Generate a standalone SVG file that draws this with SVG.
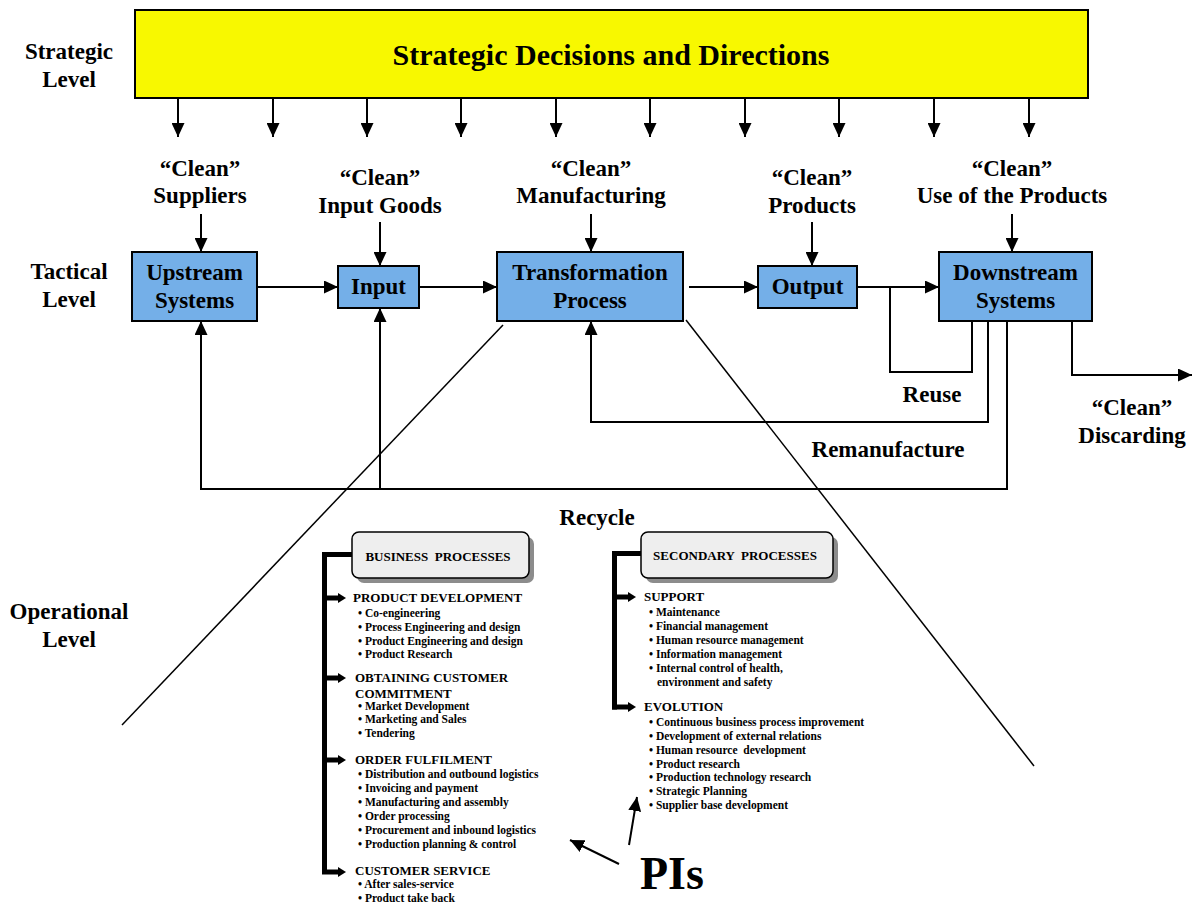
<svg xmlns="http://www.w3.org/2000/svg" width="1196" height="906" viewBox="0 0 1196 906">
<defs>
<style>
text{font-family:'Liberation Serif','Times New Roman',serif;font-weight:bold;fill:#000;white-space:pre}
.lbl{font-size:23px;text-anchor:middle}
.big{font-size:30px;text-anchor:middle}
.node{fill:#74AFE8;stroke:#000;stroke-width:2}
.c{fill:none;stroke:#000;stroke-width:2}
.d{fill:none;stroke:#000;stroke-width:1.5}
.br{fill:none;stroke:#000;stroke-width:5}
.pb{fill:#EEEEEE;stroke:#000;stroke-width:1.5}
.sh{fill:#8C8C8C}
.h{font-size:13px}
.i{font-size:11.5px}
.pt{font-size:13px;text-anchor:middle}
</style>
<marker id="ah" viewBox="0 0 14 13" refX="14" refY="6.5" markerWidth="14" markerHeight="13" markerUnits="userSpaceOnUse" orient="auto"><path d="M0,0L14,6.5L0,13z" fill="#000"/></marker>
<marker id="bh" viewBox="0 0 8 10" refX="0" refY="5" markerWidth="8" markerHeight="10" markerUnits="userSpaceOnUse" orient="auto"><path d="M0,0L8,5L0,10z" fill="#000"/></marker>
</defs>

<g id="level-labels">
<text class="lbl" x="69" y="59">Strategic</text>
<text class="lbl" x="69" y="87">Level</text>
<text class="lbl" x="69" y="279">Tactical</text>
<text class="lbl" x="69" y="307">Level</text>
<text class="lbl" x="69" y="619">Operational</text>
<text class="lbl" x="69" y="647">Level</text>
</g>

<g id="strategic">
<rect x="135" y="10" width="953" height="88" fill="#F8F800" stroke="#000" stroke-width="2"/>
<text class="big" x="611" y="65">Strategic Decisions and Directions</text>
</g>

<g id="connectors">
<g id="strategic-arrows" marker-end="url(#ah)">
<path class="c" d="M178,98V137"/>
<path class="c" d="M273,98V137"/>
<path class="c" d="M367,98V137"/>
<path class="c" d="M461,98V137"/>
<path class="c" d="M556,98V137"/>
<path class="c" d="M650,98V137"/>
<path class="c" d="M745,98V137"/>
<path class="c" d="M839,98V137"/>
<path class="c" d="M934,98V137"/>
<path class="c" d="M1029,98V137"/>
</g>
<path class="c" d="M201,214V252" marker-end="url(#ah)"/>
<path class="c" d="M380,222V266" marker-end="url(#ah)"/>
<path class="c" d="M591,214V252" marker-end="url(#ah)"/>
<path class="c" d="M812,222V266" marker-end="url(#ah)"/>
<path class="c" d="M1012,214V252" marker-end="url(#ah)"/>
<path class="c" d="M257,287H338" marker-end="url(#ah)"/>
<path class="c" d="M419,287H497" marker-end="url(#ah)"/>
<path class="c" d="M689,287H758" marker-end="url(#ah)"/>
<path class="c" d="M857,287H939" marker-end="url(#ah)"/>
<path class="c" d="M890,287V372H972V321"/>
<path class="c" d="M988,321V422H591V321" marker-end="url(#ah)"/>
<path class="c" d="M1007,321V489H201V321" marker-end="url(#ah)"/>
<path class="c" d="M380,489V308" marker-end="url(#ah)"/>
<path class="c" d="M1072,321V375H1192" marker-end="url(#ah)"/>
<path class="d" d="M503,325L122,725"/>
<path class="d" d="M686,320L1034,766"/>
<path class="c" d="M619,864L570,840" marker-end="url(#ah)"/>
<path class="c" d="M629,845L637,797" marker-end="url(#ah)"/>
</g>

<g id="flow-labels">
<text class="lbl" x="200" y="176">“Clean”</text>
<text class="lbl" x="200" y="203">Suppliers</text>
<text class="lbl" x="380" y="185">“Clean”</text>
<text class="lbl" x="380" y="213">Input Goods</text>
<text class="lbl" x="591" y="176">“Clean”</text>
<text class="lbl" x="591" y="203">Manufacturing</text>
<text class="lbl" x="812" y="185">“Clean”</text>
<text class="lbl" x="812" y="213">Products</text>
<text class="lbl" x="1012" y="176">“Clean”</text>
<text class="lbl" x="1012" y="203">Use of the Products</text>
<text class="lbl" x="932" y="402">Reuse</text>
<text class="lbl" x="888" y="457">Remanufacture</text>
<text class="lbl" x="597" y="525">Recycle</text>
<text class="lbl" x="1132" y="415">“Clean”</text>
<text class="lbl" x="1132" y="443">Discarding</text>
</g>

<g id="upstream">
<rect class="node" x="132" y="252" width="125" height="69"/>
<text class="lbl" x="194.5" y="280">Upstream</text>
<text class="lbl" x="194.5" y="308">Systems</text>
</g>
<g id="input">
<rect class="node" x="338" y="266" width="81" height="42"/>
<text class="lbl" x="378.5" y="294">Input</text>
</g>
<g id="transformation">
<rect class="node" x="497" y="252" width="186" height="69"/>
<text class="lbl" x="590" y="280">Transformation</text>
<text class="lbl" x="590" y="308">Process</text>
</g>
<g id="output">
<rect class="node" x="758" y="266" width="99" height="42"/>
<text class="lbl" x="807.5" y="294">Output</text>
</g>
<g id="downstream">
<rect class="node" x="939" y="252" width="153" height="69"/>
<text class="lbl" x="1015.5" y="280">Downstream</text>
<text class="lbl" x="1015.5" y="308">Systems</text>
</g>

<g id="business-processes">
<rect class="sh" x="357" y="537" width="177" height="46" rx="7"/>
<rect class="pb" x="352" y="532" width="177" height="46" rx="7"/>
<text class="pt" x="438" y="561">BUSINESS  PROCESSES</text>
<path class="br" d="M352,554.5H324.5V872.5"/>
<g marker-end="url(#bh)">
<path class="br" d="M322,598H338"/>
<path class="br" d="M322,678H338"/>
<path class="br" d="M322,760H338"/>
<path class="br" d="M322,872H338"/>
</g>
<text class="h" x="353" y="602">PRODUCT DEVELOPMENT</text>
<text class="i" x="358" y="617">• Co-engineering</text>
<text class="i" x="358" y="631">• Process Engineering and design</text>
<text class="i" x="358" y="644.5">• Product Engineering and design</text>
<text class="i" x="358" y="658">• Product Research</text>
<text class="h" x="355" y="682">OBTAINING CUSTOMER</text>
<text class="h" x="355" y="698">COMMITMENT</text>
<text class="i" x="358" y="709.5">• Market Development</text>
<text class="i" x="358" y="723">• Marketing and Sales</text>
<text class="i" x="358" y="737">• Tendering</text>
<text class="h" x="355" y="764">ORDER FULFILMENT</text>
<text class="i" x="358" y="777.5">• Distribution and outbound logistics</text>
<text class="i" x="358" y="791.5">• Invoicing and payment</text>
<text class="i" x="358" y="805.5">• Manufacturing and assembly</text>
<text class="i" x="358" y="819.5">• Order processing</text>
<text class="i" x="358" y="833.5">• Procurement and inbound logistics</text>
<text class="i" x="358" y="847.5">• Production planning &amp; control</text>
<text class="h" x="355" y="875">CUSTOMER SERVICE</text>
<text class="i" x="358" y="888">• After sales-service</text>
<text class="i" x="358" y="902">• Product take back</text>
</g>

<g id="secondary-processes">
<rect class="sh" x="646" y="537" width="192" height="46" rx="7"/>
<rect class="pb" x="641" y="532" width="192" height="46" rx="7"/>
<text class="pt" x="735" y="560">SECONDARY  PROCESSES</text>
<path class="br" d="M641,553.5H614.5V709.5"/>
<g marker-end="url(#bh)">
<path class="br" d="M612,597H628"/>
<path class="br" d="M612,707H628"/>
</g>
<text class="h" x="644" y="601">SUPPORT</text>
<text class="i" x="649" y="616">• Maintenance</text>
<text class="i" x="649" y="629.5">• Financial management</text>
<text class="i" x="649" y="643.5">• Human resource management</text>
<text class="i" x="649" y="657.5">• Information management</text>
<text class="i" x="649" y="671.5">• Internal control of health,</text>
<text class="i" x="657" y="685.5">environment and safety</text>
<text class="h" x="644" y="711">EVOLUTION</text>
<text class="i" x="649" y="725.5">• Continuous business process improvement</text>
<text class="i" x="649" y="739.5">• Development of external relations</text>
<text class="i" x="649" y="753.5">• Human resource  development</text>
<text class="i" x="649" y="767.5">• Product research</text>
<text class="i" x="649" y="781">• Production technology research</text>
<text class="i" x="649" y="795">• Strategic Planning</text>
<text class="i" x="649" y="809">• Supplier base development</text>
</g>

<g id="pis">
<text x="640" y="889" style="font-size:46px">PIs</text>
</g>
</svg>
